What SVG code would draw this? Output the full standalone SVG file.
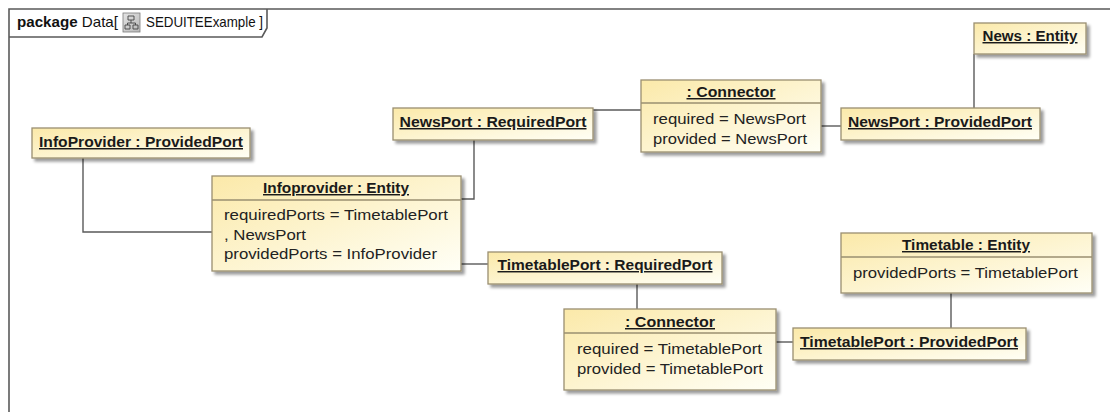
<svg xmlns="http://www.w3.org/2000/svg" width="1110" height="412" viewBox="0 0 1110 412">
  <defs>
    <linearGradient id="fill" x1="0" y1="0" x2="1" y2="1">
      <stop offset="0" stop-color="#fbe9a9"/>
      <stop offset="1" stop-color="#fffff6"/>
    </linearGradient>
    <filter id="shadow" x="-10%" y="-20%" width="130%" height="160%">
      <feGaussianBlur in="SourceAlpha" stdDeviation="1.5"/>
      <feOffset dx="3" dy="3" result="b"/>
      <feComponentTransfer><feFuncA type="linear" slope="0.4"/></feComponentTransfer>
      <feMerge><feMergeNode/><feMergeNode in="SourceGraphic"/></feMerge>
    </filter>
    <linearGradient id="iconFill" x1="0" y1="0" x2="1" y2="1">
      <stop offset="0" stop-color="#e4e4e4"/>
      <stop offset="1" stop-color="#b8b8b8"/>
    </linearGradient>
  </defs>
  <style>
    .box { fill: url(#fill); stroke: #9a8f70; stroke-width: 1.3; filter: url(#shadow); }
    .sep { stroke: #9a8f70; stroke-width: 1.3; }
    .title { font-family: "Liberation Sans", Arial, sans-serif; font-weight: bold; font-size: 14.5px; fill: #1a1a1a; text-decoration: underline; text-anchor: middle; }
    .attr { font-family: "Liberation Sans", Arial, sans-serif; font-size: 15.5px; fill: #222; }
    .link { fill: none; stroke: #5a5a5a; stroke-width: 1.4; }
    .frame { fill: none; stroke: #5a5a5a; stroke-width: 1.6; }
    .pkg { font-family: "Liberation Sans", Arial, sans-serif; font-size: 14.5px; fill: #111; }
  </style>

  <rect width="1110" height="412" fill="#ffffff"/>

  <!-- package frame -->
  <g id="frame">
    <path class="frame" d="M9,412 V9 H1110"/>
    <path class="frame" d="M9,37 H262 L267,28 V9"/>
    <text class="pkg" x="17" y="27" textLength="101" lengthAdjust="spacingAndGlyphs"><tspan font-weight="bold">package</tspan> Data[</text>
    <g id="pkg-icon">
      <rect x="123" y="13" width="17" height="19" fill="url(#iconFill)" stroke="#7a7a7a" stroke-width="0.8"/>
      <path d="M128,16 h6 v4 h-6 z M125,25 h5 v4 h-5 z M133,25 h5 v4 h-5 z M131,20 v3 M127.5,25 v-2 h8 v2" fill="none" stroke="#444" stroke-width="0.9"/>
    </g>
    <text class="pkg" x="146" y="27" textLength="117" lengthAdjust="spacingAndGlyphs">SEDUITEExample ]</text>
  </g>

  <!-- connectors -->
  <g id="connectors">
    <polyline class="link" points="83,158 83,232 212,232"/>
    <polyline class="link" points="461,199 474,199 474,140"/>
    <line class="link" x1="593" y1="110" x2="641" y2="110"/>
    <line class="link" x1="821" y1="126" x2="841" y2="126"/>
    <line class="link" x1="974" y1="54" x2="974" y2="108"/>
    <line class="link" x1="461" y1="264" x2="488" y2="264"/>
    <line class="link" x1="637" y1="284" x2="637" y2="309"/>
    <line class="link" x1="776" y1="342" x2="793" y2="342"/>
    <line class="link" x1="951" y1="293" x2="951" y2="328"/>
  </g>

  <g id="infoProviderPort">
    <rect class="box" x="32" y="128" width="218" height="30"/>
    <text class="title" x="141" y="147" textLength="204" lengthAdjust="spacingAndGlyphs">InfoProvider : ProvidedPort</text>
  </g>

  <g id="infoproviderEntity">
    <rect class="box" x="212" y="176" width="249" height="95"/>
    <line class="sep" x1="212" y1="200" x2="461" y2="200"/>
    <text class="title" x="336" y="193" textLength="146" lengthAdjust="spacingAndGlyphs">Infoprovider : Entity</text>
    <text class="attr" x="224" y="220" textLength="224" lengthAdjust="spacingAndGlyphs">requiredPorts = TimetablePort</text>
    <text class="attr" x="224" y="240" textLength="82" lengthAdjust="spacingAndGlyphs">, NewsPort</text>
    <text class="attr" x="224" y="259" textLength="213" lengthAdjust="spacingAndGlyphs">providedPorts = InfoProvider</text>
  </g>

  <g id="newsRequiredPort">
    <rect class="box" x="393" y="108" width="200" height="32"/>
    <text class="title" x="493" y="127" textLength="187" lengthAdjust="spacingAndGlyphs">NewsPort : RequiredPort</text>
  </g>

  <g id="newsConnector">
    <rect class="box" x="641" y="80" width="180" height="72"/>
    <line class="sep" x1="641" y1="103" x2="821" y2="103"/>
    <text class="title" x="731" y="97" textLength="89" lengthAdjust="spacingAndGlyphs">: Connector</text>
    <text class="attr" x="653" y="124" textLength="153" lengthAdjust="spacingAndGlyphs">required = NewsPort</text>
    <text class="attr" x="653" y="144" textLength="154" lengthAdjust="spacingAndGlyphs">provided = NewsPort</text>
  </g>

  <g id="newsProvidedPort">
    <rect class="box" x="841" y="108" width="199" height="32"/>
    <text class="title" x="940" y="127" textLength="184" lengthAdjust="spacingAndGlyphs">NewsPort : ProvidedPort</text>
  </g>

  <g id="newsEntity">
    <rect class="box" x="974" y="23" width="112" height="31"/>
    <text class="title" x="1030" y="41" textLength="95" lengthAdjust="spacingAndGlyphs">News : Entity</text>
  </g>

  <g id="timetableRequiredPort">
    <rect class="box" x="488" y="252" width="234" height="32"/>
    <text class="title" x="605" y="270" textLength="215" lengthAdjust="spacingAndGlyphs">TimetablePort : RequiredPort</text>
  </g>

  <g id="timetableConnector">
    <rect class="box" x="564" y="309" width="212" height="81"/>
    <line class="sep" x1="564" y1="333" x2="776" y2="333"/>
    <text class="title" x="670" y="327" textLength="90" lengthAdjust="spacingAndGlyphs">: Connector</text>
    <text class="attr" x="577" y="354" textLength="185" lengthAdjust="spacingAndGlyphs">required = TimetablePort</text>
    <text class="attr" x="577" y="374" textLength="186" lengthAdjust="spacingAndGlyphs">provided = TimetablePort</text>
  </g>

  <g id="timetableEntity">
    <rect class="box" x="841" y="233" width="251" height="60"/>
    <line class="sep" x1="841" y1="257" x2="1092" y2="257"/>
    <text class="title" x="966" y="250" textLength="128" lengthAdjust="spacingAndGlyphs">Timetable : Entity</text>
    <text class="attr" x="853" y="278" textLength="225" lengthAdjust="spacingAndGlyphs">providedPorts = TimetablePort</text>
  </g>

  <g id="timetableProvidedPort">
    <rect class="box" x="793" y="328" width="233" height="32"/>
    <text class="title" x="909" y="347" textLength="218" lengthAdjust="spacingAndGlyphs">TimetablePort : ProvidedPort</text>
  </g>
</svg>
